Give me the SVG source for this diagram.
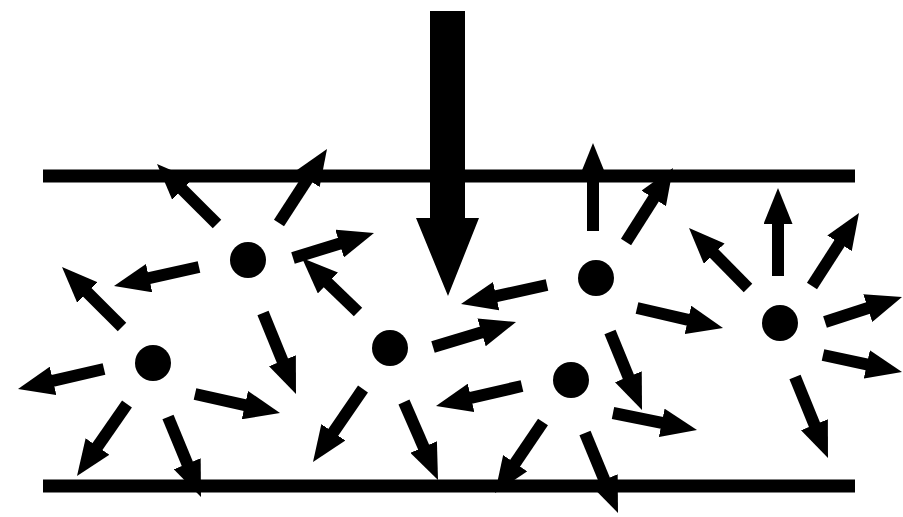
<svg xmlns="http://www.w3.org/2000/svg" width="903" height="517" viewBox="0 0 903 517">
<style>
.wall{stroke:#000;stroke-width:13;fill:none}
.dot{fill:#000}
.arr{stroke:#000;stroke-width:12;fill:none;stroke-dasharray:76 200;marker-end:url(#head)}
</style>
<defs>
<marker id="head" markerUnits="userSpaceOnUse" viewBox="0 0 36 29" markerWidth="36" markerHeight="29" refX="36" refY="14.5" orient="auto">
<path d="M0,0 L36,14.5 L0,29 Z" fill="#000"/>
</marker>
</defs>
<rect width="903" height="517" fill="#fff"/>
<g id="walls">
<line class="wall" x1="43" y1="176" x2="855" y2="176"/>
<line class="wall" x1="43" y1="486" x2="855" y2="486"/>
</g>
<g id="connectors">
<path class="arr" pathLength="100" d="M217,224 L157,164"/>
<path class="arr" pathLength="100" d="M279,223 L327,149"/>
<path class="arr" pathLength="100" d="M199,267 L114,286"/>
<path class="arr" pathLength="100" d="M293,258 L374,233"/>
<path class="arr" pathLength="100" d="M263,313 L296,394"/>
<path class="arr" pathLength="100" d="M358,312 L302,258"/>
<path class="arr" pathLength="100" d="M122,327 L62,267"/>
<path class="arr" pathLength="100" d="M104,369 L18,389"/>
<path class="arr" pathLength="100" d="M127,404 L77,476"/>
<path class="arr" pathLength="100" d="M168,417 L201,497"/>
<path class="arr" pathLength="100" d="M195,394 L280,413"/>
<path class="arr" pathLength="100" d="M433,347 L516,322"/>
<path class="arr" pathLength="100" d="M363,389 L313,462"/>
<path class="arr" pathLength="100" d="M404,402 L438,480"/>
<path class="arr" pathLength="100" d="M522,386 L436,406"/>
<path class="arr" pathLength="100" d="M543,422 L495,493"/>
<path class="arr" pathLength="100" d="M585,433 L618,513"/>
<path class="arr" pathLength="100" d="M613,413 L697,430"/>
<path class="arr" pathLength="100" d="M593,231 L593,143"/>
<path class="arr" pathLength="100" d="M626,242 L673,168"/>
<path class="arr" pathLength="100" d="M637,308 L723,328"/>
<path class="arr" pathLength="100" d="M547,285 L461,304"/>
<path class="arr" pathLength="100" d="M610,332 L642,410"/>
<path class="arr" pathLength="100" d="M748,288 L689,228"/>
<path class="arr" pathLength="100" d="M778,276 L778,188"/>
<path class="arr" pathLength="100" d="M812,286 L859,213"/>
<path class="arr" pathLength="100" d="M825,322 L902,297"/>
<path class="arr" pathLength="100" d="M823,355 L902,372"/>
<path class="arr" pathLength="100" d="M795,377 L828,458"/>
</g>
<g id="force">
<path d="M430,11 H465 V218 H479 L448,296 L416,218 H430 Z" fill="#000"/>
</g>
<g id="p1"><circle class="dot" cx="248" cy="260" r="18"/></g>
<g id="p2"><circle class="dot" cx="153" cy="363" r="18"/></g>
<g id="p3"><circle class="dot" cx="390" cy="348" r="18"/></g>
<g id="p4"><circle class="dot" cx="571" cy="380" r="18"/></g>
<g id="p5"><circle class="dot" cx="596" cy="278" r="18"/></g>
<g id="p6"><circle class="dot" cx="780" cy="323" r="18"/></g>
</svg>
